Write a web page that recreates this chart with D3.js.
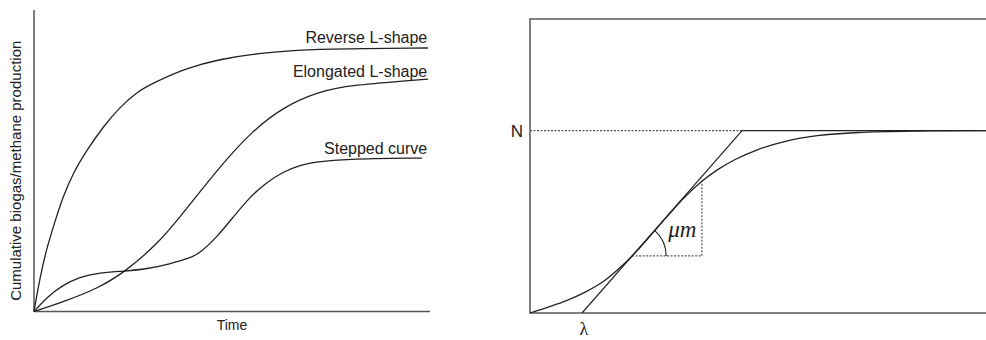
<!DOCTYPE html>
<html>
<head>
<meta charset="utf-8">
<script src="https://cdn.jsdelivr.net/npm/d3@7"></script>
<style>
  body { margin: 0; background: #fff; }
  svg { display: block; }
</style>
</head>
<body>
<div id="chart"></div>
<script>
// left panel: three cumulative production curve shapes (time 0-100, production 0-100)
const reverseL = [
  [0, 0], [1.52, 11.4], [3.28, 21.4], [5.81, 32.0], [7.32, 38.0], [9.85, 45.9],
  [13.4, 53.6], [17.4, 61.2], [21.7, 67.8], [26.0, 72.8], [30.1, 75.8],
  [38.6, 80.8], [47.0, 83.7], [55.3, 85.4], [63.9, 86.4], [72.2, 87.1], [99.5, 87.4]
];
const elongatedL = [
  [0, 0], [7.32, 3.2], [15.9, 7.5], [23.0, 13.1], [31.1, 22.4], [36.1, 30.0],
  [46.2, 46.9], [54.5, 59.2], [62.9, 67.8], [71.5, 72.8], [79.8, 75.1], [99.5, 77.1]
];
const stepped = [
  [0, 0], [3.28, 4.8], [7.32, 8.8], [11.6, 11.4], [15.9, 12.8], [23.0, 13.4],
  [28.5, 14.1], [34.3, 15.8], [39.4, 17.7], [41.9, 19.4], [46.2, 24.7],
  [50.3, 31.3], [54.5, 38.0], [58.8, 42.9], [62.9, 46.3], [67.2, 48.6],
  [71.5, 49.6], [78.0, 50.6], [98.0, 50.9]
];
const curveNames = ["Reverse L-shape", "Elongated L-shape", "Stepped curve"];

// right panel: modified Gompertz-type curve with N, lambda, mu_m
const N = 62;
const lambda = 11.4;
const mu = 1.766;
const gompertz = [
  [0, 0], [4, 2.0], [8, 4.2], [12, 7.0], [16, 10.6], [19, 14.4], [22.4, 19.4],
  [26, 25.6], [30, 32.7], [34, 39.5], [37.7, 44.8], [41, 48.6], [45, 52.2],
  [50, 55.6], [56, 58.4], [63, 60.3], [72, 61.4], [85, 61.9], [100, 62]
];
const triangleT = [22.4, 37.7]; // start / end time of the slope triangle

const width = 986, height = 340;
const ink = "#222";
const axisInk = "#555";

const svg = d3.select("#chart").append("svg")
  .attr("width", width)
  .attr("height", height);

// ---------- left panel ----------
const xL = d3.scaleLinear([0, 100], [34, 430]);
const yL = d3.scaleLinear([0, 100], [311.5, 10]);

const left = svg.append("g");

left.append("line")
  .attr("x1", xL(0)).attr("x2", xL(0))
  .attr("y1", yL(0)).attr("y2", yL(100))
  .attr("stroke", axisInk).attr("stroke-width", 1.5);
left.append("line")
  .attr("x1", xL(0)).attr("x2", xL(100))
  .attr("y1", yL(0)).attr("y2", yL(0))
  .attr("stroke", axisInk).attr("stroke-width", 1.5);

const lineL = d3.line()
  .x(d => xL(d[0]))
  .y(d => yL(d[1]))
  .curve(d3.curveBasis);

left.append("g")
  .attr("fill", "none")
  .attr("stroke", ink)
  .attr("stroke-width", 1.3)
  .selectAll("path")
  .data([reverseL, elongatedL, stepped])
  .join("path")
  .attr("d", lineL);

// labels sit just above the end of each curve
const labelBaselines = [43, 77, 154];
left.append("g")
  .attr("font-family", "Liberation Sans, Arial, sans-serif")
  .attr("font-size", 16)
  .attr("fill", ink)
  .attr("text-anchor", "end")
  .selectAll("text")
  .data(curveNames)
  .join("text")
  .attr("x", xL(99.3))
  .attr("y", (d, i) => labelBaselines[i])
  .text(d => d);

left.append("text")
  .attr("x", (xL(0) + xL(100)) / 2)
  .attr("y", 330)
  .attr("text-anchor", "middle")
  .attr("font-family", "Liberation Sans, Arial, sans-serif")
  .attr("font-size", 14)
  .attr("fill", ink)
  .text("Time");

left.append("text")
  .attr("transform", `translate(21,${(yL(0) + yL(100)) / 2 + 10}) rotate(-90)`)
  .attr("text-anchor", "middle")
  .attr("font-family", "Liberation Sans, Arial, sans-serif")
  .attr("font-size", 15)
  .attr("fill", ink)
  .text("Cumulative biogas/methane production");

// ---------- right panel ----------
const xR = d3.scaleLinear([0, 100], [530, 986]);
const yR = d3.scaleLinear([0, 100], [313, 19]);

const right = svg.append("g");

// frame (open on the right, cut by the page edge)
right.append("path")
  .attr("d", d3.line()([[xR(100), yR(100)], [xR(0), yR(100)], [xR(0), yR(0)], [xR(100), yR(0)]]))
  .attr("fill", "none")
  .attr("stroke", axisInk)
  .attr("stroke-width", 1.5);

const tTop = lambda + N / mu; // where the tangent reaches N

// N asymptote: dotted up to the tangent, solid after
right.append("line")
  .attr("x1", xR(0)).attr("x2", xR(tTop))
  .attr("y1", yR(N)).attr("y2", yR(N))
  .attr("stroke", axisInk).attr("stroke-width", 1.2)
  .attr("stroke-dasharray", "2,1.5");
right.append("line")
  .attr("x1", xR(tTop)).attr("x2", xR(100))
  .attr("y1", yR(N)).attr("y2", yR(N))
  .attr("stroke", ink).attr("stroke-width", 1.3);

// slope triangle
const [t1, t2] = triangleT;
const yAt = t => mu * (t - lambda);
const curveAt = t => {
  const i = gompertz.findIndex(d => d[0] >= t);
  const a = gompertz[i - 1], b = gompertz[i];
  return a[1] + (b[1] - a[1]) * (t - a[0]) / (b[0] - a[0]);
};
right.append("path")
  .attr("d", d3.line()([[xR(t1), yR(yAt(t1))], [xR(t2), yR(yAt(t1))], [xR(t2), yR(curveAt(t2))]]))
  .attr("fill", "none")
  .attr("stroke", axisInk)
  .attr("stroke-width", 1.2)
  .attr("stroke-dasharray", "2,1.5");

// tangent line from lambda to N
right.append("line")
  .attr("x1", xR(lambda)).attr("y1", yR(0))
  .attr("x2", xR(tTop)).attr("y2", yR(N))
  .attr("stroke", ink).attr("stroke-width", 1.2);

// growth curve
right.append("path")
  .datum(gompertz)
  .attr("d", d3.line().x(d => xR(d[0])).y(d => yR(d[1])).curve(d3.curveCatmullRom.alpha(0.5)))
  .attr("fill", "none")
  .attr("stroke", ink)
  .attr("stroke-width", 1.3);

// angle arc at the triangle corner
const cx = xR(t1), cy = yR(yAt(t1));
const slopeAngle = Math.atan2(yR(0) - yR(N), xR(tTop) - xR(lambda)); // above horizontal
right.append("path")
  .attr("transform", `translate(${cx},${cy})`)
  .attr("d", d3.arc()({
    innerRadius: 34, outerRadius: 34,
    startAngle: Math.PI / 2 - slopeAngle, endAngle: Math.PI / 2
  }))
  .attr("fill", "none")
  .attr("stroke", ink)
  .attr("stroke-width", 1.2);

right.append("text")
  .attr("x", cx + 36)
  .attr("y", cy - 19)
  .attr("font-family", "Liberation Serif, Times New Roman, serif")
  .attr("font-style", "italic")
  .attr("font-size", 23)
  .attr("fill", ink)
  .text("\u03BCm");

right.append("text")
  .attr("x", xR(0) - 13)
  .attr("y", yR(N) + 6)
  .attr("text-anchor", "middle")
  .attr("font-family", "Liberation Sans, Arial, sans-serif")
  .attr("font-size", 17)
  .attr("fill", ink)
  .text("N");

right.append("text")
  .attr("x", xR(lambda) + 2)
  .attr("y", 335)
  .attr("text-anchor", "middle")
  .attr("font-family", "Liberation Serif, Times New Roman, serif")
  .attr("font-size", 18)
  .attr("fill", ink)
  .text("\u03BB");
</script>
</body>
</html>
